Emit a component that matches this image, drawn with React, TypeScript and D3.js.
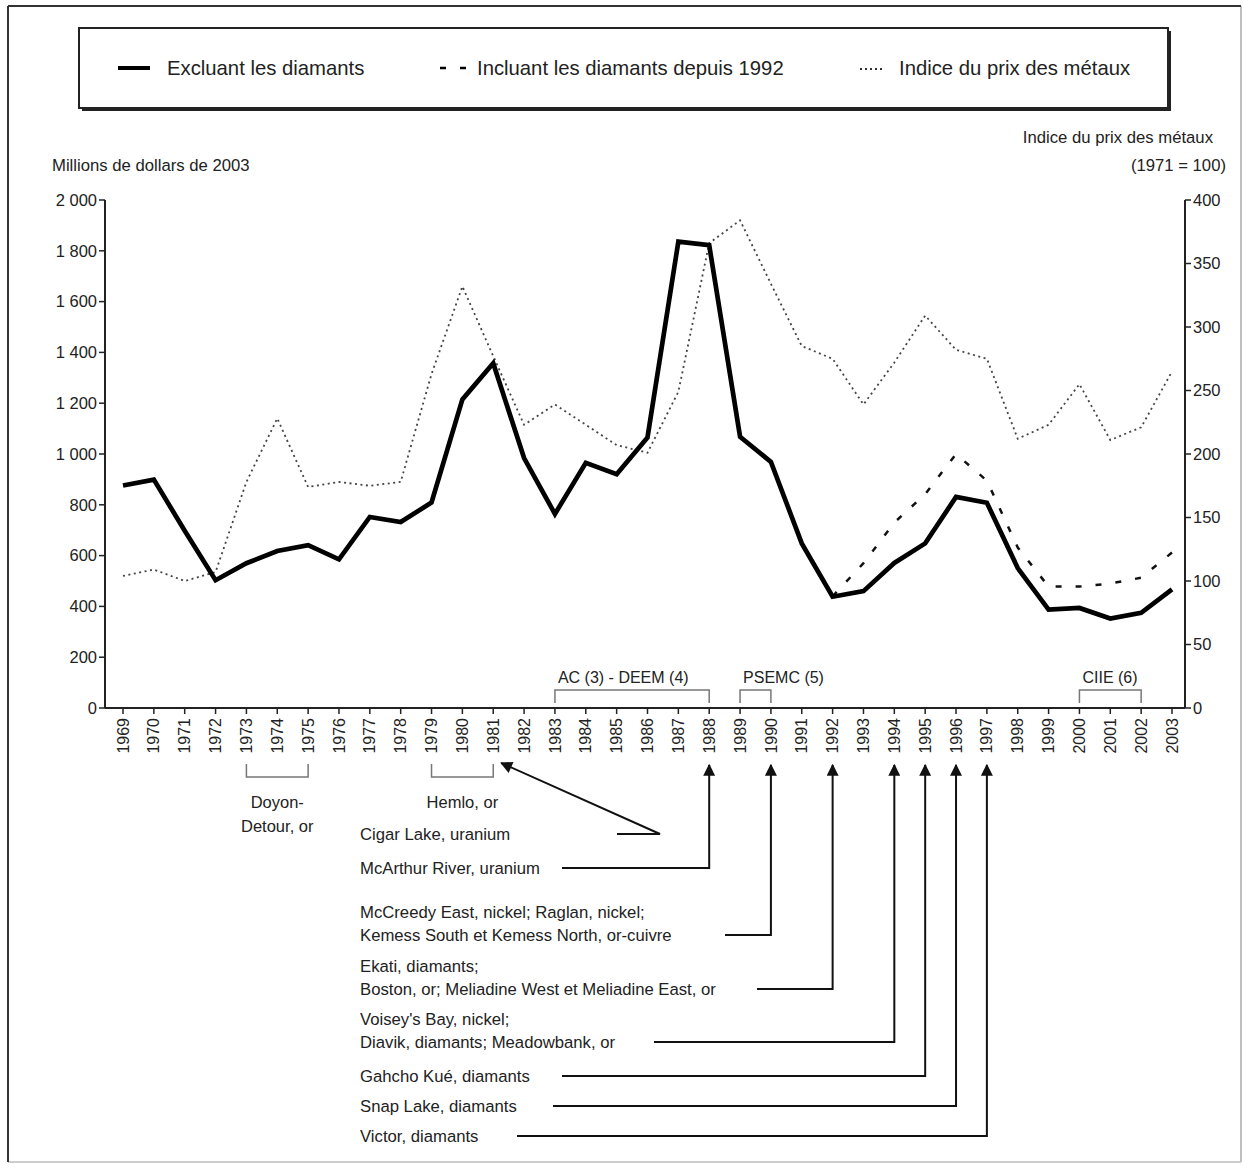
import React from "react";
import * as d3 from "d3";

// ---------- DATA ----------
const years: number[] = d3.range(1969, 2004);

// Excluant les diamants (millions de dollars de 2003)
const excluding: number[] = [
  876, 899, 698, 503, 570, 618, 641, 585, 752, 732, 809, 1215, 1357, 984, 764, 965, 920, 1065, 1836, 1822,
  1068, 969, 648, 438, 460, 571, 648, 831, 808, 551, 387, 394, 352, 375, 467,
];

// Incluant les diamants depuis 1992
const includingYears: number[] = d3.range(1992, 2004);
const including: number[] = [440, 570, 730, 842, 1000, 895, 632, 478, 478, 490, 513, 612];

// Indice du prix des métaux (1971 = 100)
const metalIndex: number[] = [
  104, 109, 100, 107, 178, 228, 174, 178, 175, 178, 263, 332, 277, 223, 239, 223, 207, 201, 249, 366,
  384, 334, 285, 275, 239, 272, 309, 282, 275, 212, 223, 255, 211, 221, 265,
];

const leftTicks: number[] = [0, 200, 400, 600, 800, 1000, 1200, 1400, 1600, 1800, 2000];
const rightTicks: number[] = [0, 50, 100, 150, 200, 250, 300, 350, 400];

const legendLabels: string[] = [
  "Excluant les diamants",
  "Incluant les diamants depuis 1992",
  "Indice du prix des métaux",
];

const leftTitle = "Millions de dollars de 2003";
const rightTitle1 = "Indice du prix des métaux";
const rightTitle2 = "(1971 = 100)";

const topBrackets = [
  { label: "AC (3) - DEEM (4)", from: 1983, to: 1988 },
  { label: "PSEMC (5)", from: 1989, to: 1990 },
  { label: "CIIE (6)", from: 2000, to: 2002 },
];

const bottomBrackets = [
  { lines: ["Doyon-", "Detour, or"], from: 1973, to: 1975 },
  { lines: ["Hemlo, or"], from: 1979, to: 1981 },
];

const projects = [
  { lines: ["Cigar Lake, uranium"], year: 1981 },
  { lines: ["McArthur River, uranium"], year: 1988 },
  { lines: ["McCreedy East, nickel; Raglan, nickel;", "Kemess South et Kemess North, or-cuivre"], year: 1990 },
  { lines: ["Ekati, diamants;", "Boston, or; Meliadine West et Meliadine East, or"], year: 1992 },
  { lines: ["Voisey's Bay, nickel;", "Diavik, diamants; Meadowbank, or"], year: 1994 },
  { lines: ["Gahcho Kué, diamants"], year: 1995 },
  { lines: ["Snap Lake, diamants"], year: 1996 },
  { lines: ["Victor, diamants"], year: 1997 },
];

// ---------- LAYOUT ----------
const W = 1243;
const H = 1164;
const FONT = "'Liberation Sans', Arial, Helvetica, sans-serif";
const TEXT = "#222";

// per-annotation layout: text baseline of first line, leader start x
const projectLayout = [
  { y: 840, lineStart: 617 },
  { y: 874, lineStart: 562 },
  { y: 918, lineStart: 725 },
  { y: 972, lineStart: 757 },
  { y: 1025, lineStart: 654 },
  { y: 1082, lineStart: 562 },
  { y: 1112, lineStart: 553 },
  { y: 1142, lineStart: 517 },
];

function fmtThousands(v: number): string {
  if (v < 1000) return String(v);
  return `${Math.floor(v / 1000)} ${String(v % 1000).padStart(3, "0")}`;
}

export default function App() {
  const x = d3.scaleLinear().domain([1969, 2003]).range([123, 1172]);
  const yL = d3.scaleLinear().domain([0, 2000]).range([708, 200]);
  const yR = d3.scaleLinear().domain([0, 400]).range([708, 200]);
  const axisLeftX = 105;
  const axisRightX = 1185;
  const axisY = 708;

  const lineL = d3
    .line<[number, number]>()
    .x((d) => x(d[0]))
    .y((d) => yL(d[1]));
  const lineR = d3
    .line<[number, number]>()
    .x((d) => x(d[0]))
    .y((d) => yR(d[1]));

  const exclPath = lineL(years.map((yr, i) => [yr, excluding[i]]));
  const inclPath = lineL(includingYears.map((yr, i) => [yr, including[i]]));
  const metalPath = lineR(years.map((yr, i) => [yr, metalIndex[i]]));

  const lineGap = 23;
  const arrowTipY = 765;

  return (
    <svg
      width={W}
      height={H}
      viewBox={`0 0 ${W} ${H}`}
      style={{ position: "absolute", left: 0, top: 0, display: "block", background: "#fff" }}
      fontFamily={FONT}
    >
      <defs>
        <marker
          id="arrow"
          viewBox="0 0 10 10"
          refX="9"
          refY="5"
          markerWidth="6.5"
          markerHeight="6"
          orient="auto"
        >
          <path d="M0,0 L10,5 L0,10 z" fill="#111" />
        </marker>
      </defs>
      <rect x={0} y={0} width={W} height={H} fill="#fff" />

      {/* outer frame */}
      <line x1={1241} y1={6} x2={1241} y2={1162} stroke="#aaa" strokeWidth={1.5} />
      <line x1={8} y1={1162} x2={1241} y2={1162} stroke="#bbb" strokeWidth={1.5} />
      <line x1={8} y1={6} x2={1241} y2={6} stroke="#333" strokeWidth={2} />
      <line x1={8} y1={6} x2={8} y2={1162} stroke="#333" strokeWidth={2} />

      {/* legend box */}
      <rect x={82} y={31} width={1089} height={80} fill="#222" />
      <rect x={79} y={28} width={1089} height={80} fill="#fff" stroke="#222" strokeWidth={2} />
      <line x1={118} y1={68} x2={150} y2={68} stroke="#000" strokeWidth={4} />
      <text x={167} y={75} fontSize={20.3} fill={TEXT}>{legendLabels[0]}</text>
      <line x1={440} y1={68} x2={466} y2={68} stroke="#000" strokeWidth={2.5} strokeDasharray="6 14" />
      <text x={477} y={75} fontSize={20.3} fill={TEXT}>{legendLabels[1]}</text>
      <line x1={860} y1={69} x2={882} y2={69} stroke="#333" strokeWidth={1.8} strokeDasharray="2 3" />
      <text x={899} y={75} fontSize={20.3} fill={TEXT}>{legendLabels[2]}</text>

      {/* axis titles */}
      <text x={52} y={171} fontSize={16.7} fill={TEXT}>{leftTitle}</text>
      <text x={1213} y={143} fontSize={16.7} fill={TEXT} textAnchor="end">{rightTitle1}</text>
      <text x={1226} y={171} fontSize={16.7} fill={TEXT} textAnchor="end">{rightTitle2}</text>

      {/* left axis */}
      <line x1={axisLeftX} y1={yL(2000)} x2={axisLeftX} y2={axisY} stroke="#222" strokeWidth={2} />
      {leftTicks.map((t) => (
        <g key={"l" + t}>
          <line x1={axisLeftX - 6} x2={axisLeftX} y1={yL(t)} y2={yL(t)} stroke="#222" strokeWidth={1.5} />
          <text x={axisLeftX - 8} y={yL(t)} dy="0.35em" fontSize={16.5} textAnchor="end" fill={TEXT}>
            {fmtThousands(t)}
          </text>
        </g>
      ))}

      {/* right axis */}
      <line x1={axisRightX} y1={yR(400)} x2={axisRightX} y2={axisY} stroke="#222" strokeWidth={2} />
      {rightTicks.map((t) => (
        <g key={"r" + t}>
          <line x1={axisRightX} x2={axisRightX + 6} y1={yR(t)} y2={yR(t)} stroke="#222" strokeWidth={1.5} />
          <text x={axisRightX + 8} y={yR(t)} dy="0.35em" fontSize={16.5} fill={TEXT}>
            {t}
          </text>
        </g>
      ))}

      {/* x axis */}
      <line x1={axisLeftX} y1={axisY} x2={axisRightX} y2={axisY} stroke="#222" strokeWidth={2} />
      {years.map((yr) => (
        <g key={"x" + yr}>
          <line x1={x(yr)} x2={x(yr)} y1={axisY} y2={axisY + 6} stroke="#222" strokeWidth={1.5} />
          <text
            transform={`translate(${x(yr)},${axisY + 10}) rotate(-90)`}
            dy="0.35em"
            fontSize={16}
            textAnchor="end"
            fill={TEXT}
          >
            {yr}
          </text>
        </g>
      ))}

      {/* series */}
      <path d={metalPath || ""} fill="none" stroke="#444" strokeWidth={1.8} strokeDasharray="2 3.5" />
      <path d={inclPath || ""} fill="none" stroke="#111" strokeWidth={2.5} strokeDasharray="6 14" />
      <path d={exclPath || ""} fill="none" stroke="#000" strokeWidth={4.7} strokeLinejoin="miter" />

      {/* brackets above axis */}
      {topBrackets.map((b) => (
        <g key={b.label}>
          <path
            d={`M${x(b.from)},703 V690 H${x(b.to)} V703`}
            fill="none"
            stroke="#777"
            strokeWidth={1.5}
          />
          <text x={x(b.from) + 3} y={683} fontSize={16} fill={TEXT}>
            {b.label}
          </text>
        </g>
      ))}

      {/* brackets below axis */}
      {bottomBrackets.map((b) => (
        <g key={b.lines[0]}>
          <path
            d={`M${x(b.from)},764 V777 H${x(b.to)} V764`}
            fill="none"
            stroke="#777"
            strokeWidth={1.5}
          />
          {b.lines.map((l, i) => (
            <text
              key={l}
              x={(x(b.from) + x(b.to)) / 2}
              y={808 + i * 24}
              fontSize={16.5}
              textAnchor="middle"
              fill={TEXT}
            >
              {l}
            </text>
          ))}
        </g>
      ))}

      {/* project annotations */}
      {projects.map((p, i) => {
        const lay = projectLayout[i];
        const lastY = lay.y + (p.lines.length - 1) * lineGap;
        const ly = lastY - 6;
        const xv = x(p.year);
        const d =
          i === 0
            ? `M${lay.lineStart},${ly} H660 L${xv + 8},${arrowTipY - 2}`
            : `M${lay.lineStart},${ly} H${xv} V${arrowTipY}`;
        return (
          <g key={p.lines[0]}>
            {p.lines.map((l, j) => (
              <text key={l} x={360} y={lay.y + j * lineGap} fontSize={16.7} fill={TEXT}>
                {l}
              </text>
            ))}
            <path d={d} fill="none" stroke="#111" strokeWidth={2} markerEnd="url(#arrow)" />
          </g>
        );
      })}
    </svg>
  );
}
